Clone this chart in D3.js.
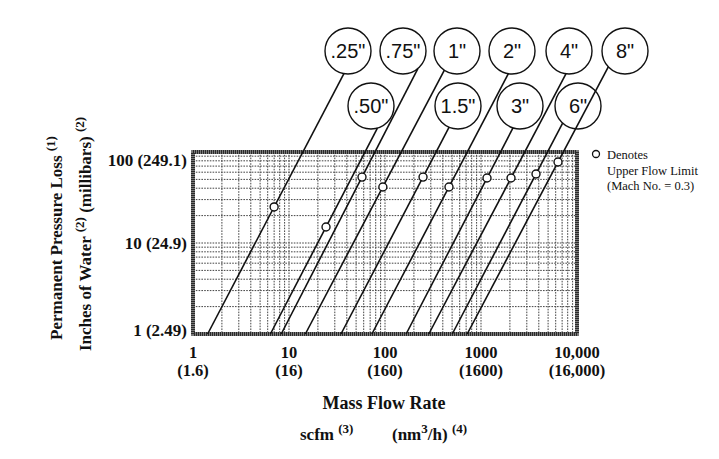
<!DOCTYPE html>
<html>
<head>
<meta charset="utf-8">
<script src="https://cdn.jsdelivr.net/npm/d3@7/dist/d3.min.js"></script>
<style>
body { margin: 0; background: #fff; }
text { font-family: 'Liberation Serif', 'Times New Roman', serif; }
.bold { font-weight: bold; }
.badge-text { font-family: 'Liberation Sans', Arial, sans-serif; font-size: 20px; }
</style>
</head>
<body>
<svg id="chart"></svg>
<script>
'use strict';

// pipe sizes, flow (scfm) where each line crosses 1 in. of water, and the Mach 0.3 point
var sizes = ['.25"', '.50"', '.75"', '1"', '1.5"', '2"', '3"', '4"', '6"', '8"'];
var flow_at_one_inch = [1.42, 6.4, 8.3, 14.8, 34.8, 73, 166, 286, 502, 718];
var mach_flow = [7.0, 24.3, 57.6, 95, 249, 464, 1155, 2054, 3741, 6342];
var mach_loss = [24.9, 15.0, 53, 41.3, 53, 41.3, 51.8, 51.8, 57.3, 77.6];

var x_ticks = [1, 10, 100, 1000, 10000];
var x_tick_scfm = ['1', '10', '100', '1000', '10,000'];
var x_tick_nm3 = ['(1.6)', '(16)', '(160)', '(1600)', '(16,000)'];
var y_ticks = [1, 10, 100];
var y_tick_inches = ['1', '10', '100'];
var y_tick_mbar = ['(2.49)', '(24.9)', '(249.1)'];

// label bubble layout (row 0 = top row, row 1 = lower row)
var badge_row = [0, 1, 0, 0, 1, 0, 1, 0, 1, 0];
var badge_x = [348, 371, 403, 457, 458, 512, 520, 569, 578, 625];
var badge_row_y = [51, 106];
var badge_r = 23;

var width = 719, height = 459;
var plot_left = 193, plot_right = 577, plot_top = 152, plot_bottom = 334;

var svg = d3.select('#chart').attr('width', width).attr('height', height);

var x = d3.scaleLog().domain([1, 10000]).range([plot_left, plot_right]);
var y = d3.scaleLog().domain([1, 100]).range([plot_bottom, plot_top]);

// grid
var grid = svg.append('g').attr('class', 'grid')
    .attr('stroke', '#444').attr('stroke-width', 1).attr('stroke-dasharray', '1.6,1.2');

grid.selectAll('.vgrid').data(x.ticks()).enter().append('line')
    .attr('x1', function (d) { return x(d); }).attr('x2', function (d) { return x(d); })
    .attr('y1', plot_top).attr('y2', plot_bottom);

grid.selectAll('.hgrid').data(y.ticks()).enter().append('line')
    .attr('y1', function (d) { return y(d); }).attr('y2', function (d) { return y(d); })
    .attr('x1', plot_left).attr('x2', plot_right);

// frame
svg.append('rect').attr('x', plot_left).attr('y', plot_top)
    .attr('width', plot_right - plot_left).attr('height', plot_bottom - plot_top)
    .attr('fill', 'none').attr('stroke', '#7a7a7a').attr('stroke-width', 4);
svg.append('rect').attr('x', plot_left).attr('y', plot_top)
    .attr('width', plot_right - plot_left).attr('height', plot_bottom - plot_top)
    .attr('fill', 'none').attr('stroke', '#2a2a2a').attr('stroke-width', 4)
    .attr('stroke-dasharray', '1,1');

// pressure loss lines, extended up to their label bubbles
function lineEnd(i) {
    var ax = x(flow_at_one_inch[i]), ay = y(1);
    var bx = x(mach_flow[i]), by = y(mach_loss[i]);
    var len = Math.hypot(bx - ax, by - ay);
    var ux = (bx - ax) / len, uy = (by - ay) / len;
    var cx = badge_x[i], cy = badge_row_y[badge_row[i]];
    var px = ax - cx, py = ay - cy;
    var b = px * ux + py * uy;
    var c = px * px + py * py - badge_r * badge_r;
    var disc = b * b - c;
    var t = disc >= 0 ? -b - Math.sqrt(disc) : -b;
    return { x1: ax, y1: ay, x2: ax + t * ux, y2: ay + t * uy };
}

var lines = d3.range(sizes.length).map(lineEnd);

svg.append('g').selectAll('line').data(lines).enter().append('line')
    .attr('x1', function (d) { return d.x1; }).attr('y1', function (d) { return d.y1; })
    .attr('x2', function (d) { return d.x2; }).attr('y2', function (d) { return d.y2; })
    .attr('stroke', '#111').attr('stroke-width', 1.6);

// label bubbles
var badges = svg.append('g').selectAll('g').data(sizes).enter().append('g')
    .attr('transform', function (d, i) {
        return 'translate(' + badge_x[i] + ',' + badge_row_y[badge_row[i]] + ')';
    });
badges.append('circle').attr('r', badge_r).attr('fill', 'none')
    .attr('stroke', '#111').attr('stroke-width', 1.4);
badges.append('text').attr('class', 'badge-text').attr('text-anchor', 'middle')
    .attr('y', 7).attr('fill', '#111').text(function (d) { return d; });

// Mach 0.3 markers
svg.append('g').selectAll('circle').data(mach_flow).enter().append('circle')
    .attr('cx', function (d) { return x(d); })
    .attr('cy', function (d, i) { return y(mach_loss[i]); })
    .attr('r', 4).attr('fill', '#fff').attr('stroke', '#111').attr('stroke-width', 1.4);

// x tick labels
var xlab = svg.append('g').attr('class', 'bold').attr('font-size', 16.5).attr('fill', '#111')
    .attr('text-anchor', 'middle');
xlab.selectAll('.xt1').data(x_ticks).enter().append('text')
    .attr('x', function (d) { return x(d); }).attr('y', 358)
    .text(function (d, i) { return x_tick_scfm[i]; });
xlab.selectAll('.xt2').data(x_ticks).enter().append('text')
    .attr('x', function (d) { return x(d); }).attr('y', 376)
    .text(function (d, i) { return x_tick_nm3[i]; });

// y tick labels
svg.append('g').attr('class', 'bold').attr('font-size', 17).attr('fill', '#111')
    .attr('text-anchor', 'end')
    .selectAll('text').data(y_ticks).enter().append('text')
    .attr('x', 187)
    .attr('y', function (d) { return Math.min(Math.max(y(d) + 6, plot_top + 14), plot_bottom + 2); })
    .text(function (d, i) { return y_tick_inches[i] + ' ' + y_tick_mbar[i]; });

// axis titles
svg.append('text').attr('class', 'bold').attr('font-size', 18).attr('fill', '#111')
    .attr('text-anchor', 'middle').attr('x', 384).attr('y', 409).text('Mass Flow Rate');

var scfm = svg.append('text').attr('class', 'bold').attr('font-size', 17).attr('fill', '#111')
    .attr('x', 300).attr('y', 440);
scfm.append('tspan').text('scfm ');
scfm.append('tspan').attr('font-size', 13).attr('dy', -7).text('(3)');

var nm3 = svg.append('text').attr('class', 'bold').attr('font-size', 17).attr('fill', '#111')
    .attr('x', 392).attr('y', 440);
nm3.append('tspan').text('(nm');
nm3.append('tspan').attr('font-size', 13).attr('dy', -7).text('3');
nm3.append('tspan').attr('dy', 7).text('/h) ');
nm3.append('tspan').attr('font-size', 13).attr('dy', -7).text('(4)');

var ytitle1 = svg.append('text').attr('class', 'bold').attr('font-size', 17).attr('fill', '#111')
    .attr('text-anchor', 'middle').attr('transform', 'translate(62,238) rotate(-90)');
ytitle1.append('tspan').text('Permanent Pressure Loss ');
ytitle1.append('tspan').attr('font-size', 13).attr('dy', -7).text('(1)');

var ytitle2 = svg.append('text').attr('class', 'bold').attr('font-size', 17).attr('fill', '#111')
    .attr('text-anchor', 'middle').attr('transform', 'translate(91,234) rotate(-90)');
ytitle2.append('tspan').text('Inches of Water ');
ytitle2.append('tspan').attr('font-size', 13).attr('dy', -7).text('(2)');
ytitle2.append('tspan').attr('dy', 7).text(' (millibars) ');
ytitle2.append('tspan').attr('font-size', 13).attr('dy', -7).text('(2)');

// legend
svg.append('circle').attr('cx', 596).attr('cy', 154).attr('r', 3.5)
    .attr('fill', '#fff').attr('stroke', '#111').attr('stroke-width', 1.3);
svg.append('g').attr('font-size', 12.5).attr('fill', '#111')
    .selectAll('text').data(['Denotes', 'Upper Flow Limit', '(Mach No. = 0.3)']).enter()
    .append('text').attr('x', 607).attr('y', function (d, i) { return 159 + i * 15.5; })
    .text(function (d) { return d; });
</script>
</body>
</html>
